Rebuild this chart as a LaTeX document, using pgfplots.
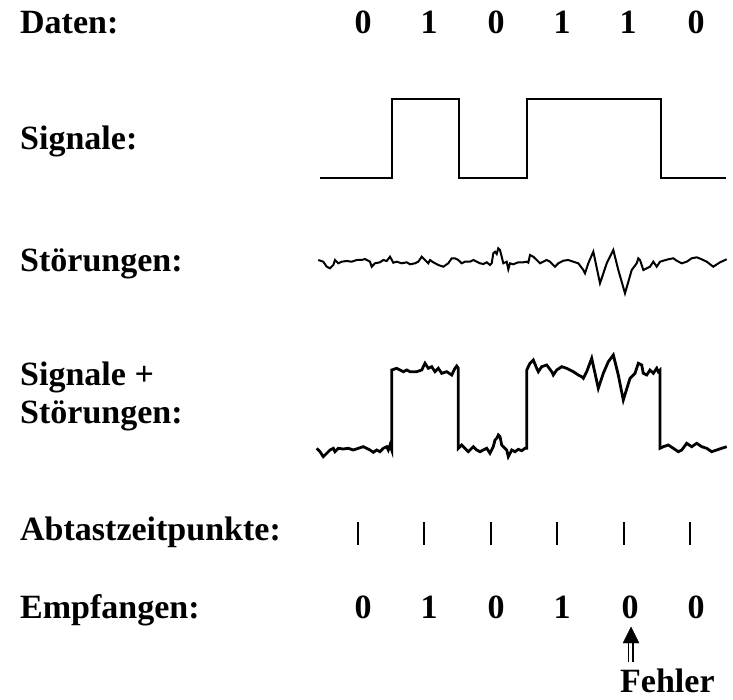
\documentclass[border=0pt]{standalone}
\usepackage{fontspec}
\setmainfont{Liberation Serif}
\usepackage{pgfplots}
\pgfplotsset{compat=1.18}
\tikzset{lbl/.style={font=\fontsize{34}{40}\selectfont\bfseries, inner sep=0pt}}
\begin{document}
\begin{tikzpicture}
\begin{axis}[
  scale only axis, width=733pt, height=700pt,
  xmin=0, xmax=733, ymin=0, ymax=700, y dir=reverse,
  hide axis, clip=false,
]
% frame for bounding box (invisible)
\addplot[draw=none, mark=none] coordinates {(0,0) (733,700)};
% Signal
\addplot[black, line width=2.8pt, mark=none] coordinates {
(320,178) (392,178) (392,99) (459,99) (459,178) (527,178) (527,99) (661,99) (661,178) (726,178)};
% Noise
\addplot[black, line width=2pt, mark=none] coordinates {
(318.3,260) (323.3,261.7) (326.7,266.7) (330,268.3) (333.3,265) (335,260) (338.3,263.3) (341.7,261.7)
(346.7,261) (351.7,261.7) (356.7,260) (361.7,260) (365,259) (370,261.7) (371.7,266.7) (375,263.3)
(380,262.3) (383.3,260) (386.7,261) (390,256.7) (393.3,262.7) (396.7,261.7) (401.7,263.3) (406.7,262.3)
(410,264.3) (415,263.3) (418.3,261.7) (421.7,256.7) (425,260) (428.3,263.3) (430,260) (433.3,262.3)
(438.3,265) (443.3,266.7) (448.3,263.3) (451.7,258.3) (455,258.3) (458.3,260) (461.7,263.3) (465,261.7)
(470,261.7) (473.3,260) (476.7,261.7) (480,263.3) (483.3,264) (486.7,262.3) (490,265) (491.7,263.3)
(493.3,253.3) (495,251.7) (496.7,254) (498.3,248.3) (500,250) (501.7,256.7) (503.3,263.3) (506.7,261.7)
(508.3,269.3) (510,263.3) (513.3,264.3) (518.3,262.3) (523.3,262.3) (526.7,261.7) (528.3,262.7) (530,255)
(533.3,256.7) (536.7,260) (540,263.3) (543.3,261.7) (546.7,260) (550,261.7) (555,266.7) (558.3,263.3)
(563.3,260.7) (568.3,260) (573.3,261.7) (578.3,263.3) (583.3,270) (585,273.3) (588.3,263.3) (593.3,251.7)
(600,283.3) (606.7,263.3) (613.3,250) (618.3,270) (625,293.3) (631.7,270) (636.7,263.3) (638.3,258.3)
(640,260) (643.3,270) (646.7,268.3) (650,266.7) (653.3,261.7) (656.7,266.7) (660,261.7) (663.3,260.7)
(668.3,259.3) (673.3,258.3) (676.7,260.7) (681.7,263.3) (686.7,261.7) (691.7,258.3) (696.7,257.3) (701.7,259.3)
(706.7,261.7) (713.3,266.7) (720,262.3) (726.7,259.3)};
% Signal + noise
\addplot[black, line width=2.8pt, mark=none] coordinates {
(316.7,448.3) (320,451.7) (323.3,456.7) (326.7,453.3) (330,450) (333.3,448.3) (335,451.7) (338.3,448.3)
(343.3,449) (348.3,448.3) (353.3,450) (358.3,448.3) (363.3,446.7) (366.7,448.3) (370,450) (373.3,452.3)
(376.7,450) (380,451.7) (383.3,448.3) (386.7,446.7) (388.3,450) (390,445) (391.7,450) (391.7,370)
(396.7,368.3) (400,370) (403.3,371.7) (406.7,370) (410,371.7) (416.7,371.7) (421.7,370) (425,363.3)
(428.3,368.3) (431.7,366.7) (435,371.7) (438.3,368.3) (441.7,373.3) (446.7,371.7) (451.7,375) (455,368.3)
(456.7,366) (458.3,368.3) (458.3,448.3) (461.7,445) (465,448.3) (468.3,451.7) (473.3,446.7) (476.7,450)
(480,451.7) (483.3,450) (486.7,448.3) (490,453.3) (493.3,446.7) (495,440) (496.7,438.3) (498.3,435)
(500,436.7) (501.7,445) (503.3,446.7) (506.7,450) (508.3,456.7) (511.7,450) (515,451.7) (518.3,449.3)
(521.7,450.7) (525,448.3) (526.7,448.3) (526.7,370) (530,363.3) (533.3,360) (536.7,368.3) (538.3,371.7)
(541.7,366.7) (546.7,365) (551.7,371.7) (553.3,375) (556.7,370) (561.7,366.7) (566.7,368.3) (573.3,371.7)
(578.3,375) (581.7,376.7) (583.3,378.3) (586.7,371.7) (591.7,358.3) (595,373.3) (598.3,388.3) (603.3,373.3)
(608.3,361.7) (613.3,355) (618.3,375) (623.3,400) (630,378.3) (635,373.3) (638.3,363.3) (641.7,365)
(643.3,373.3) (646.7,375) (650,370) (653.3,373.3) (656.7,368.3) (658.3,371.7) (660,370) (660,448.3)
(663.3,446.7) (668.3,445) (673.3,448.3) (678.3,451.7) (681.7,450) (686.7,443.3) (691.7,446.7) (696.7,443.3)
(701.7,446.7) (706.7,448.3) (711.7,451.7) (716.7,450) (721.7,448.3) (726.7,446.7)};
% Sampling instants
\addplot[black, line width=2.6pt, mark=none, unbounded coords=jump] coordinates {
(358,522) (358,545) (358,nan) (424,522) (424,545) (424,nan) (491,522) (491,545) (491,nan)
(557,522) (557,545) (557,nan) (624,522) (624,545) (624,nan) (690,522) (690,545)};
% Arrow (double shaft + head)
\addplot[black, line width=1.2pt, mark=none, unbounded coords=jump] coordinates {
(628.5,642) (628.5,662) (628.5,nan) (633,642) (633,662)};
\addplot[black, fill=black, mark=none] coordinates {(623,643) (639,643) (631,627)} --cycle;
% Labels
\node[lbl, anchor=base west] at (axis cs:20,34) {Daten:};
\node[lbl, anchor=base west] at (axis cs:20,150) {Signale:};
\node[lbl, anchor=base west] at (axis cs:20,272) {Störungen:};
\node[lbl, anchor=base west] at (axis cs:20,385) {Signale +};
\node[lbl, anchor=base west] at (axis cs:20,423) {Störungen:};
\node[lbl, anchor=base west] at (axis cs:20,540) {Abtastzeitpunkte:};
\node[lbl, anchor=base west] at (axis cs:20,618) {Empfangen:};
\node[lbl, anchor=base west] at (axis cs:620,692) {Fehler};
% Data digits
\node[lbl, anchor=base] at (axis cs:363,34) {0};
\node[lbl, anchor=base] at (axis cs:429,34) {1};
\node[lbl, anchor=base] at (axis cs:496,34) {0};
\node[lbl, anchor=base] at (axis cs:562,34) {1};
\node[lbl, anchor=base] at (axis cs:628,34) {1};
\node[lbl, anchor=base] at (axis cs:696,34) {0};
% Received digits
\node[lbl, anchor=base] at (axis cs:363,618) {0};
\node[lbl, anchor=base] at (axis cs:429,618) {1};
\node[lbl, anchor=base] at (axis cs:496,618) {0};
\node[lbl, anchor=base] at (axis cs:562,618) {1};
\node[lbl, anchor=base] at (axis cs:630,618) {0};
\node[lbl, anchor=base] at (axis cs:696,618) {0};
\end{axis}
\end{tikzpicture}
\end{document}
